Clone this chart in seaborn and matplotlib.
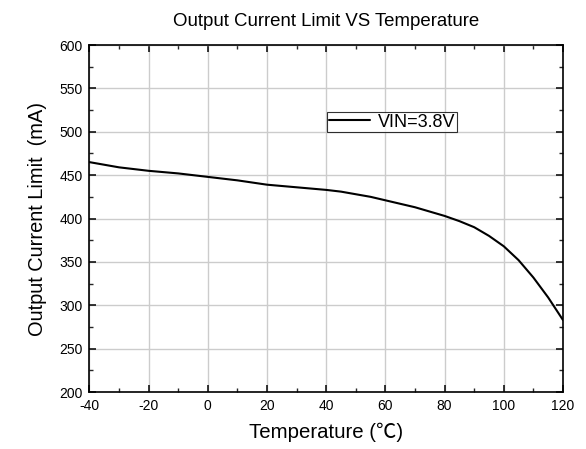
import numpy as np
import pandas as pd
import matplotlib
matplotlib.use("Agg")
import matplotlib.pyplot as plt
import matplotlib.ticker as ticker
import seaborn as sns

# data
temperature = [-40, -30, -20, -10, 0, 10, 20, 30, 40, 45, 50, 55, 60, 65, 70, 75, 80, 85, 90, 95, 100, 105, 110, 115, 120]
current_limit = [465, 459, 455, 452, 448, 444, 439, 436, 433, 431, 428, 425, 421, 417, 413, 408, 403, 397, 390, 380, 368, 352, 332, 309, 283]
series_name = "VIN=3.8V"
x_ticks = [-40, -20, 0, 20, 40, 60, 80, 100, 120]
y_ticks = [200, 250, 300, 350, 400, 450, 500, 550, 600]

df = pd.DataFrame({"Temperature": temperature, "Current": current_limit, "series": series_name})

sns.set_style("ticks")
plt.rcParams['font.family'] = ['Liberation Sans', 'Noto Sans CJK SC', 'DejaVu Sans']
plt.rcParams['axes.unicode_minus'] = False
plt.rcParams['text.color'] = 'black'
plt.rcParams['axes.labelcolor'] = 'black'

fig = plt.figure(figsize=(5.86, 4.49), dpi=100)
ax = fig.add_axes([0.1527, 0.1269, 0.808, 0.7728])

sns.lineplot(data=df, x="Temperature", y="Current", hue="series",
             palette=["black"], linewidth=1.5, ax=ax)

ax.set_xlim(-40, 120)
ax.set_ylim(200, 600)
ax.set_xticks(x_ticks)
ax.set_yticks(y_ticks)
ax.xaxis.set_minor_locator(ticker.MultipleLocator(10))
ax.yaxis.set_minor_locator(ticker.MultipleLocator(25))

ax.grid(True, which='major', color='#cccccc', linewidth=1.0)
ax.set_axisbelow(True)

for side in ['left', 'right', 'top', 'bottom']:
    ax.spines[side].set_visible(True)
    ax.spines[side].set_linewidth(1.2)
    ax.spines[side].set_color('black')

ax.tick_params(axis='both', which='major', direction='in', length=5, width=1.1,
               top=True, right=True, labelsize=10, colors='black')
ax.tick_params(axis='x', which='major', pad=5)
ax.tick_params(axis='y', which='major', pad=5)
ax.tick_params(axis='both', which='minor', direction='in', length=3, width=1.0,
               top=True, right=True)

ax.set_xlabel("Temperature (℃)", fontsize=14.7, labelpad=7)
ax.set_ylabel("Output Current Limit  (mA)", fontsize=14.4, labelpad=9)
ax.set_title("Output Current Limit VS Temperature", fontsize=13.4, pad=14)

leg = ax.legend(loc='center', bbox_to_anchor=(0.639, 0.778), fontsize=13,
                frameon=True, fancybox=False, edgecolor='black', handlelength=2.3,
                borderpad=0.1, handletextpad=0.4, borderaxespad=0)
leg.get_frame().set_linewidth(0.8)
leg.set_title(None)

fig.savefig("out.png", dpi=100)
